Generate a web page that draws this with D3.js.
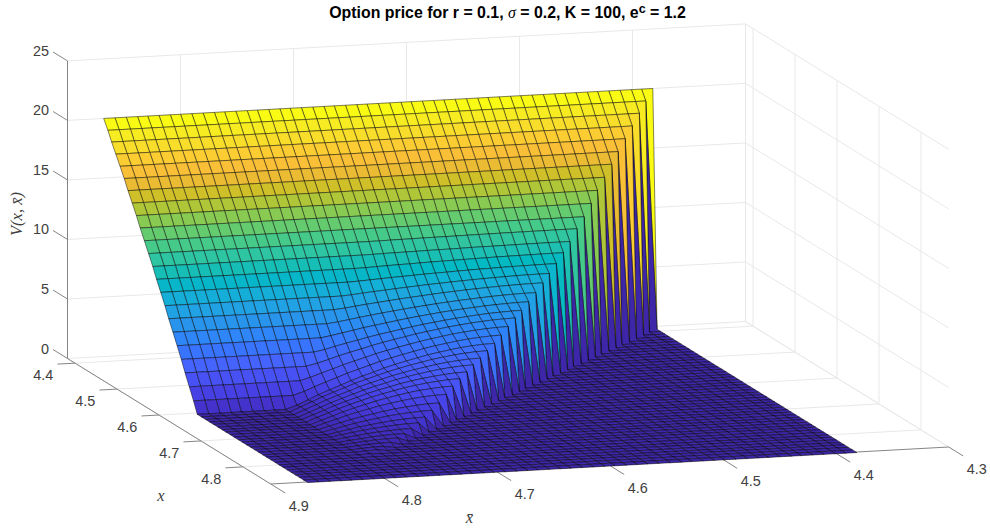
<!DOCTYPE html>
<html lang="en">
<head>
<meta charset="UTF-8">
<title>Option price surface</title>
<script src="https://d3js.org/d3.v7.min.js"></script>
<style>
    html, body { margin: 0; padding: 0; background: #fff; }
    svg { display: block; }
    text { font-family: "Liberation Sans", Arial, sans-serif; fill: #404040; }
    .math { font-family: "Liberation Serif", serif; font-style: italic; }
</style>
</head>
<body>
<svg id="chart" width="990" height="530"></svg>
<script>
const xTicks = [4.4, 4.5, 4.6, 4.7, 4.8];
const xbarTicks = [4.9, 4.8, 4.7, 4.6, 4.5, 4.4, 4.3];
const zTicks = [0, 5, 10, 15, 20, 25];

// grid used for x (rows) and for xbar (columns)
const logPriceGrid = [4.382,4.392,4.401,4.411,4.421,4.431,4.440,4.450,4.460,4.469,4.479,4.489,4.499,4.508,4.518,4.528,4.537,4.547,4.557,4.567,4.576,4.586,4.596,4.605,4.615,4.625,4.635,4.644,4.654,4.664,4.673,4.683,4.693,4.703,4.712,4.722,4.732,4.741,4.751,4.761,4.770,4.780,4.790,4.800,4.809,4.819,4.829,4.838,4.848,4.858,4.868];

// V. Row i starts at the diagonal (column i), left of it V is 0
const priceRows = [
[20,20,20,20,20,20,20,20,20,20,20,20,20,20,20,20,20,20,20,20,20,20,20,20,20,20,20,20,20,20,20,20,20,20,20,20,20,20,20,20,20,20,20,20,20,20,20,20,20,20,20],
[19.22,19.22,19.22,19.22,19.22,19.22,19.22,19.22,19.22,19.22,19.22,19.22,19.22,19.22,19.22,19.22,19.22,19.22,19.22,19.22,19.22,19.22,19.22,19.22,19.22,19.22,19.22,19.22,19.22,19.22,19.22,19.22,19.22,19.22,19.22,19.22,19.22,19.22,19.22,19.22,19.22,19.22,19.22,19.22,19.22,19.22,19.22,19.22,19.22,19.22],
[18.43,18.43,18.43,18.43,18.43,18.43,18.43,18.43,18.43,18.43,18.43,18.43,18.43,18.43,18.43,18.43,18.43,18.43,18.43,18.43,18.43,18.43,18.43,18.43,18.43,18.43,18.43,18.43,18.43,18.43,18.43,18.43,18.43,18.43,18.43,18.43,18.43,18.43,18.43,18.43,18.43,18.43,18.43,18.43,18.43,18.43,18.43,18.43,18.43],
[17.63,17.63,17.63,17.63,17.63,17.63,17.63,17.63,17.63,17.63,17.63,17.63,17.63,17.63,17.63,17.63,17.63,17.63,17.63,17.63,17.63,17.63,17.63,17.63,17.63,17.63,17.63,17.63,17.63,17.63,17.63,17.63,17.63,17.63,17.63,17.63,17.63,17.63,17.63,17.63,17.63,17.63,17.63,17.63,17.63,17.63,17.63,17.63],
[16.83,16.83,16.83,16.83,16.83,16.83,16.83,16.83,16.83,16.83,16.83,16.83,16.83,16.83,16.83,16.83,16.83,16.83,16.83,16.83,16.83,16.83,16.83,16.83,16.83,16.83,16.83,16.83,16.83,16.83,16.83,16.83,16.83,16.83,16.83,16.83,16.83,16.83,16.83,16.83,16.83,16.83,16.83,16.83,16.83,16.83,16.83],
[16.02,16.02,16.02,16.02,16.02,16.02,16.02,16.02,16.02,16.02,16.02,16.02,16.02,16.02,16.02,16.02,16.02,16.02,16.02,16.02,16.02,16.02,16.02,16.02,16.02,16.02,16.02,16.02,16.02,16.02,16.02,16.02,16.02,16.02,16.02,16.02,16.02,16.02,16.02,16.02,16.02,16.02,16.02,16.02,16.02,16.02],
[15.2,15.2,15.2,15.2,15.2,15.2,15.2,15.2,15.2,15.2,15.2,15.2,15.2,15.2,15.2,15.2,15.2,15.2,15.2,15.2,15.2,15.2,15.2,15.2,15.2,15.2,15.2,15.2,15.2,15.2,15.2,15.2,15.2,15.2,15.2,15.2,15.2,15.2,15.2,15.2,15.2,15.2,15.2,15.2,15.2],
[14.37,14.37,14.37,14.37,14.37,14.37,14.37,14.37,14.37,14.37,14.37,14.37,14.37,14.37,14.37,14.37,14.37,14.37,14.37,14.37,14.37,14.37,14.37,14.37,14.37,14.37,14.37,14.37,14.37,14.37,14.37,14.37,14.37,14.37,14.37,14.37,14.37,14.37,14.37,14.37,14.37,14.37,14.37,14.37],
[13.54,13.54,13.54,13.54,13.54,13.54,13.54,13.54,13.54,13.54,13.54,13.54,13.54,13.54,13.54,13.54,13.54,13.54,13.54,13.54,13.54,13.54,13.54,13.54,13.54,13.54,13.54,13.54,13.54,13.54,13.54,13.54,13.54,13.54,13.54,13.54,13.54,13.54,13.54,13.54,13.54,13.54,13.54],
[12.69,12.69,12.69,12.69,12.69,12.69,12.69,12.69,12.69,12.69,12.69,12.69,12.69,12.69,12.69,12.69,12.69,12.69,12.69,12.69,12.69,12.69,12.69,12.69,12.69,12.69,12.69,12.69,12.69,12.69,12.69,12.69,12.69,12.69,12.69,12.69,12.69,12.69,12.69,12.69,12.69,12.69],
[11.84,11.84,11.84,11.84,11.84,11.84,11.84,11.84,11.84,11.84,11.84,11.84,11.84,11.84,11.84,11.84,11.84,11.84,11.84,11.84,11.84,11.84,11.84,11.84,11.84,11.84,11.84,11.84,11.84,11.84,11.84,11.84,11.84,11.84,11.84,11.84,11.84,11.84,11.84,11.84,11.84],
[11.10,11.10,11.10,11.09,11.09,11.09,11.08,11.08,11.07,11.07,11.06,11.05,11.04,11.04,11.03,11.02,11.01,11.00,10.99,10.98,10.98,10.98,10.98,10.98,10.98,10.98,10.98,10.98,10.98,10.98,10.98,10.98,10.98,10.98,10.98,10.98,10.98,10.98,10.98,10.98],
[10.30,10.30,10.30,10.29,10.29,10.28,10.27,10.26,10.26,10.25,10.23,10.22,10.21,10.20,10.18,10.17,10.16,10.14,10.12,10.11,10.11,10.11,10.11,10.11,10.11,10.11,10.11,10.11,10.11,10.11,10.11,10.11,10.11,10.11,10.11,10.11,10.11,10.11,10.11],
[9.60,9.60,9.59,9.58,9.57,9.56,9.55,9.53,9.51,9.49,9.47,9.45,9.43,9.40,9.37,9.35,9.32,9.29,9.25,9.23,9.23,9.23,9.23,9.23,9.23,9.23,9.23,9.23,9.23,9.23,9.23,9.23,9.23,9.23,9.23,9.23,9.23,9.23],
[8.95,8.95,8.94,8.92,8.91,8.89,8.86,8.84,8.81,8.78,8.74,8.71,8.67,8.63,8.58,8.54,8.49,8.44,8.39,8.35,8.35,8.35,8.35,8.35,8.35,8.35,8.35,8.35,8.35,8.35,8.35,8.35,8.35,8.35,8.35,8.35,8.35],
[8.40,8.39,8.38,8.36,8.33,8.30,8.26,8.22,8.18,8.13,8.07,8.02,7.96,7.89,7.82,7.75,7.68,7.60,7.51,7.45,7.45,7.45,7.45,7.45,7.45,7.45,7.45,7.45,7.45,7.45,7.45,7.45,7.45,7.45,7.45,7.45],
[7.85,7.84,7.82,7.79,7.76,7.71,7.66,7.61,7.54,7.48,7.40,7.32,7.24,7.15,7.06,6.96,6.86,6.75,6.64,6.55,6.55,6.55,6.55,6.55,6.55,6.55,6.55,6.55,6.55,6.55,6.55,6.55,6.55,6.55,6.55],
[7.30,7.29,7.26,7.23,7.18,7.12,7.06,6.99,6.91,6.82,6.73,6.63,6.52,6.41,6.29,6.16,6.03,5.89,5.75,5.64,5.64,5.64,5.64,5.64,5.64,5.64,5.64,5.64,5.64,5.64,5.64,5.64,5.64,5.64],
[6.80,6.79,6.75,6.71,6.65,6.58,6.50,6.41,6.31,6.20,6.09,5.96,5.83,5.68,5.53,5.38,5.21,5.04,4.86,4.72,4.72,4.72,4.72,4.72,4.72,4.72,4.72,4.72,4.72,4.72,4.72,4.72,4.72],
[6.35,6.33,6.29,6.24,6.17,6.08,5.98,5.87,5.75,5.62,5.47,5.32,5.15,4.98,4.79,4.60,4.40,4.18,3.96,3.79,3.79,3.79,3.79,3.79,3.79,3.79,3.79,3.79,3.79,3.79,3.79,3.79],
[5.95,5.93,5.88,5.81,5.73,5.62,5.50,5.37,5.22,5.06,4.89,4.70,4.50,4.29,4.06,3.83,3.58,3.32,3.06,2.85,2.85,2.85,2.85,2.85,2.85,2.85,2.85,2.85,2.85,2.85,2.85],
[5.50,5.47,5.42,5.34,5.24,5.12,4.98,4.83,4.65,4.47,4.27,4.05,3.82,3.57,3.31,3.04,2.75,2.45,2.14,1.90,1.90,1.90,1.90,1.90,1.90,1.90,1.90,1.90,1.90,1.90],
[5.05,5.02,4.96,4.87,4.75,4.61,4.46,4.28,4.08,3.87,3.64,3.39,3.13,2.84,2.55,2.24,1.91,1.57,1.22,0.94,0.94,0.94,0.94,0.94,0.94,0.94,0.94,0.94,0.94],
[4.60,4.57,4.50,4.40,4.27,4.11,3.94,3.74,3.52,3.28,3.02,2.74,2.45,2.13,1.80,1.45,1.09,0.70,0.31,0,0,0,0,0,0,0,0,0],
[4.25,4.22,4.15,4.05,3.92,3.77,3.59,3.40,3.18,2.94,2.69,2.41,2.12,1.81,1.48,1.13,0.77,0.40,0,0,0,0,0,0,0,0,0],
[3.90,3.87,3.80,3.70,3.57,3.41,3.24,3.04,2.82,2.58,2.32,2.04,1.74,1.43,1.10,0.75,0.38,0,0,0,0,0,0,0,0,0],
[3.60,3.57,3.49,3.39,3.26,3.10,2.92,2.72,2.49,2.25,1.98,1.70,1.39,1.07,0.73,0.37,0,0,0,0,0,0,0,0,0],
[3.25,3.22,3.14,3.04,2.91,2.75,2.57,2.36,2.14,1.89,1.62,1.33,1.03,0.70,0.36,0,0,0,0,0,0,0,0,0],
[2.95,2.92,2.84,2.74,2.60,2.44,2.25,2.04,1.81,1.56,1.29,0.99,0.68,0.35,0,0,0,0,0,0,0,0,0],
[2.60,2.57,2.49,2.39,2.25,2.09,1.90,1.69,1.46,1.21,0.94,0.64,0.33,0,0,0,0,0,0,0,0,0],
[2.15,2.12,2.05,1.95,1.82,1.66,1.49,1.29,1.07,0.83,0.57,0.30,0,0,0,0,0,0,0,0,0],
[1.70,1.67,1.61,1.51,1.40,1.25,1.09,0.91,0.71,0.49,0.26,0,0,0,0,0,0,0,0,0],
[1.35,1.32,1.26,1.18,1.07,0.93,0.78,0.61,0.43,0.22,0,0,0,0,0,0,0,0,0],
[1.05,1.02,0.97,0.89,0.79,0.66,0.52,0.37,0.19,0,0,0,0,0,0,0,0,0],
[0.80,0.78,0.72,0.65,0.55,0.44,0.31,0.16,0,0,0,0,0,0,0,0,0],
[0.60,0.58,0.53,0.46,0.37,0.26,0.14,0,0,0,0,0,0,0,0,0],
[0.45,0.43,0.38,0.31,0.22,0.12,0,0,0,0,0,0,0,0,0],
[0.32,0.30,0.25,0.19,0.10,0,0,0,0,0,0,0,0,0],
[0.22,0.20,0.15,0.09,0,0,0,0,0,0,0,0,0],
[0.15,0.13,0.08,0,0,0,0,0,0,0,0,0],
[0.10,0.07,0,0,0,0,0,0,0,0,0],
[0.05,0,0,0,0,0,0,0,0,0],
[0,0,0,0,0,0,0,0,0],
[0,0,0,0,0,0,0,0],
[0,0,0,0,0,0,0],
[0,0,0,0,0,0],
[0,0,0,0,0],
[0,0,0,0],
[0,0,0],
[0,0],
[0]
];

// parula
const colorStops = ["#3e26a8","#4332cb","#4741e5","#4852f4","#4563fd","#3875fe","#2d87f7","#2796eb","#20a5e3","#12b1d6","#02bac3","#24c1ae","#37c897","#57cc7a","#80cc59","#abc739","#d1bf27","#efba36","#fec338","#f9d62d","#f5e924","#f9fb15"];

const svg = d3.select("#chart");

const xMin = 4.382, xMax = 4.866;
const xbarMin = 4.3, xbarMax = 4.9;
const zMax = 25;

// the view is close to orthographic, each data axis just shifts the point on screen
const xToPx = d3.scaleLinear().domain([xMin, xMax]).range([67.5, 270.7]);
const xToPy = d3.scaleLinear().domain([xMin, xMax]).range([358.5, 484]);
const xbarToPx = d3.scaleLinear().domain([xbarMax, xbarMin]).range([0, 678]);
const xbarToPy = d3.scaleLinear().domain([xbarMax, xbarMin]).range([0, -37]);
const zToPy = d3.scaleLinear().domain([0, zMax]).range([0, -297.6]);
const color = d3.scaleSequential(d3.piecewise(d3.interpolateRgb, colorStops)).domain([0, 20]).clamp(true);

function project(x, xbar, z) {
    return [xToPx(x) + xbarToPx(xbar), xToPy(x) + xbarToPy(xbar) + zToPy(z)];
}

const line3d = d3.line();

function drawLine(g, a, b, stroke, width) {
    g.append("path")
        .attr("d", line3d([project(...a), project(...b)]))
        .attr("fill", "none")
        .attr("stroke", stroke)
        .attr("stroke-width", width);
}

// walls and floor grid
const grid = svg.append("g");
const gridColor = "#e8e8e8";
zTicks.forEach(z => {
    drawLine(grid, [xMin, xbarMax, z], [xMin, xbarMin, z], gridColor, 1);
    drawLine(grid, [xMin, xbarMin, z], [xMax, xbarMin, z], gridColor, 1);
});
xbarTicks.forEach(b => {
    drawLine(grid, [xMin, b, 0], [xMin, b, zMax], gridColor, 1);
    drawLine(grid, [xMin, b, 0], [xMax, b, 0], gridColor, 1);
});
xTicks.forEach(x => {
    drawLine(grid, [x, xbarMin, 0], [x, xbarMin, zMax], gridColor, 1);
    drawLine(grid, [x, xbarMax, 0], [x, xbarMin, 0], gridColor, 1);
});

// axis lines
const axes = svg.append("g");
const axisColor = "#858585";
drawLine(axes, [xMin, xbarMax, 0], [xMin, xbarMax, zMax], axisColor, 1);
drawLine(axes, [xMin, xbarMax, 0], [xMax, xbarMax, 0], axisColor, 1);
drawLine(axes, [xMax, xbarMax, 0], [xMax, xbarMin, 0], axisColor, 1);

// ticks, z and xbar point along x, x points along xbar
const tickX = 0.0345, tickBar = 0.0155;
zTicks.forEach(z => drawLine(axes, [xMin, xbarMax, z], [xMin - tickX, xbarMax, z], axisColor, 1));
xbarTicks.forEach(b => drawLine(axes, [xMax, b, 0], [xMax + tickX, b, 0], axisColor, 1));
xTicks.forEach(x => drawLine(axes, [x, xbarMax, 0], [x, xbarMax + tickBar, 0], axisColor, 1));

// surface, far corner first so nearer faces paint over it
function priceAt(i, j) {
    if (j < i) return 0;
    const row = priceRows[i];
    const v = row[j - i];
    return v === undefined ? row[row.length - 1] : v;
}

const faces = [];
for (let i = 0; i < logPriceGrid.length - 1; i++) {
    for (let j = 0; j < logPriceGrid.length - 1; j++) {
        faces.push({
            value: priceAt(i, j),
            corners: [[i, j], [i + 1, j], [i + 1, j + 1], [i, j + 1]]
                .map(([a, b]) => project(logPriceGrid[a], logPriceGrid[b], priceAt(a, b)))
        });
    }
}

svg.append("g").selectAll("path")
    .data(faces)
    .join("path")
    .attr("d", d => line3d(d.corners) + "Z")
    .attr("fill", d => color(d.value))
    .attr("stroke", "#000")
    .attr("stroke-opacity", 0.68)
    .attr("stroke-width", 0.7)
    .attr("stroke-linejoin", "round");

// tick labels
const labels = svg.append("g").attr("font-size", 14.4);
zTicks.forEach(z => {
    const p = project(xMin, xbarMax, z);
    labels.append("text").attr("x", p[0] - 18.5).attr("y", p[1] - 5).attr("text-anchor", "end").text(z);
});
xTicks.forEach(x => {
    const p = project(x, xbarMax, 0);
    labels.append("text").attr("x", p[0] - 31.7).attr("y", p[1] + 17).attr("text-anchor", "middle").text(d3.format(".1f")(x));
});
xbarTicks.forEach(b => {
    const p = project(xMax, b, 0);
    labels.append("text").attr("x", p[0] + 28).attr("y", p[1] + 27).attr("text-anchor", "middle").text(d3.format(".1f")(b));
});

// axis titles
svg.append("text").attr("class", "math").attr("x", 161).attr("y", 501).attr("font-size", 16.5).attr("text-anchor", "middle").text("x");
svg.append("text").attr("class", "math").attr("x", 469.5).attr("y", 523).attr("font-size", 16.5).attr("text-anchor", "middle").text("x\u0304");
svg.append("text").attr("class", "math")
    .attr("transform", "translate(22,214) rotate(-90)")
    .attr("font-size", 16.5)
    .attr("text-anchor", "middle")
    .text("V(x, x\u0304)");

// title
const title = svg.append("text")
    .attr("x", 507.5).attr("y", 18)
    .attr("text-anchor", "middle")
    .attr("font-size", 15.9)
    .attr("font-weight", "bold")
    .style("fill", "#000");
title.append("tspan").text("Option price for r = 0.1, ");
title.append("tspan").attr("class", "math").attr("font-weight", "normal").text("\u03c3");
title.append("tspan").text(" = 0.2, K = 100, e");
title.append("tspan").attr("font-size", 12.5).attr("dy", -5).text("c");
title.append("tspan").attr("dy", 5).text(" = 1.2");
</script>
</body>
</html>
